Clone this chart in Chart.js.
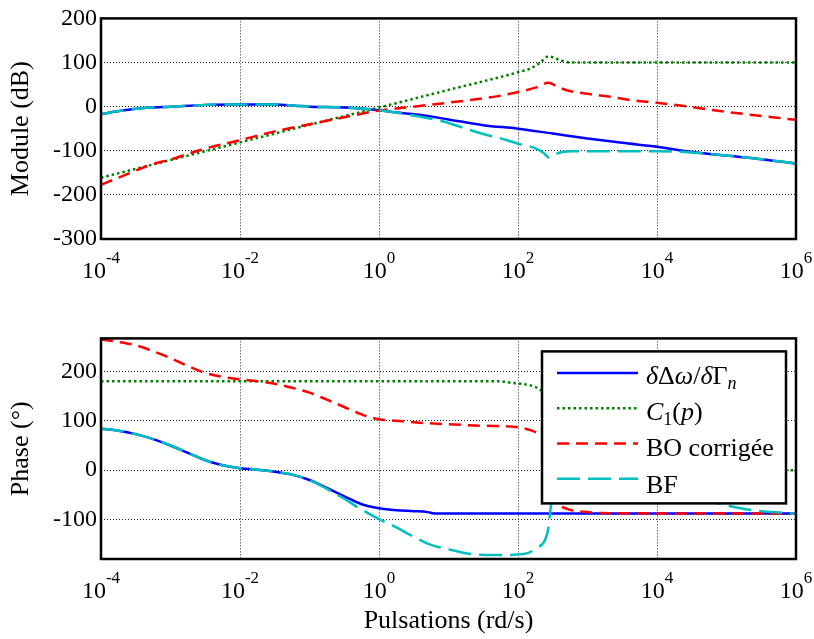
<!DOCTYPE html>
<html>
<head>
<meta charset="utf-8">
<script src="https://cdn.jsdelivr.net/npm/chart.js@4.4.0/dist/chart.umd.min.js"></script>
<style>
  html, body { margin: 0; padding: 0; background: #fff; }
  #wrap { position: relative; width: 814px; height: 639px; }
  #magChart { position: absolute; left: 0; top: 0; }
  #phaseChart { position: absolute; left: 0; top: 320px; }
</style>
</head>
<body>
<div id="wrap">
  <canvas id="magChart" width="814" height="320"></canvas>
  <canvas id="phaseChart" width="814" height="319"></canvas>
</div>
<script>
// x values are log10 of the pulsation (rd/s)
const xTickExps = [-4, -2, 0, 2, 4, 6];
const seriesNames = ['δΔω/δΓn', 'C1(p)', 'BO corrigée', 'BF'];

// Module (dB)
const magPlantW = [-4, -3.7, -3.3, -3, -2.5, -2, -1.5, -1.2, -1, -0.5, 0, 0.3, 0.6, 1, 1.5, 2, 2.5, 3, 3.5, 4, 4.5, 5, 5.5, 6];
const magPlant  = [-17, -9, -2, 0, 4, 5, 5, 2, 0, -2, -8, -14, -19, -29, -42, -50, -61, -72, -82, -91, -103, -111, -119, -129];

const magCorrW = [-4, -3, -2, -1, 0, 1, 2, 2.2, 2.32, 2.44, 2.56, 2.66, 2.75, 3, 4, 5, 6];
const magCorr  = [-161, -121, -81, -41, -2, 38, 78, 88, 100, 114, 108, 103, 100, 100, 100, 100, 100];

const magBOW = [-4, -3.7, -3.5, -3.25, -3, -2.75, -2.5, -2, -1.5, -1, -0.5, 0, 0.5, 1, 1.5, 1.75, 2, 2.25, 2.44, 2.56, 2.7, 3, 3.3, 3.665, 4, 4.5, 5, 5.5, 6];
const magBO  = [-177, -158, -145, -130, -120, -107, -95, -76, -56, -40, -24, -9, 0, 9, 19, 25, 33, 43, 54, 46, 37, 29, 23, 14, 9, -1, -12, -21, -30];

const magBFW = [-4, -3.7, -3.3, -3, -2.5, -2, -1.5, -1.2, -1, -0.5, 0, 0.3, 0.6, 0.8, 1, 1.27, 1.5, 1.75, 2, 2.225, 2.37, 2.45, 2.58, 2.75, 3, 3.5, 4, 4.3, 4.5, 5, 5.5, 6];
const magBF  = [-17, -9, -2, 0, 4, 5, 5, 2, 0, -2, -8, -15, -23, -29, -37, -51, -62, -72, -84, -93, -105, -116, -105, -101, -101, -101, -101, -102, -104, -111, -119, -129];

// Phase (deg)
const phPlantW = [-4, -3.75, -3.5, -3.25, -3, -2.75, -2.5, -2.25, -2, -1.75, -1.5, -1.25, -1, -0.75, -0.5, -0.25, 0, 0.25, 0.5, 0.7, 0.8, 6];
const phPlant  = [84, 80, 73, 63, 50, 35, 20, 10, 4, 1, -3, -9, -20, -36, -53, -69, -77, -81, -83, -85, -88, -88];

const phCorrW = [-4, 1.75, 1.9, 2.1, 2.22, 2.32, 2.4, 2.44, 2.47, 2.5, 2.56, 2.65, 2.8, 3, 3.5, 4, 6];
const phCorr  = [180, 180, 177, 174, 170, 163, 150, 125, 90, 60, 30, 14, 7, 4, 1, 0, 0];

const phBOW = [-4, -3.75, -3.5, -3.25, -3, -2.75, -2.5, -2.25, -2, -1.75, -1.5, -1.25, -1, -0.75, -0.5, -0.25, 0, 0.25, 0.5, 1, 1.5, 2, 2.2, 2.32, 2.4, 2.44, 2.47, 2.5, 2.56, 2.7, 2.8, 3, 3.2, 6];
const phBO  = [265, 260, 253, 241, 227, 211, 197, 189, 184, 180, 175, 167, 157, 143, 128, 113, 103, 100, 97, 93, 90, 87, 80, 72, 62, 37, 2, -28, -62, -78, -82, -85, -87, -88];

const phBFW = [-4, -3.75, -3.5, -3.25, -3, -2.75, -2.5, -2.25, -2, -1.75, -1.5, -1.25, -1, -0.75, -0.5, -0.25, 0, 0.25, 0.5, 0.78, 1, 1.27, 1.65, 2.08, 2.27, 2.39, 2.44, 2.465, 2.5, 2.56, 2.65, 2.8, 3, 3.5, 4, 4.3, 4.5, 4.8, 5, 5.2, 5.5, 5.8, 6];
const phBF  = [84, 80, 73, 63, 50, 35, 20, 10, 4, 1, -3, -9, -20, -38, -58, -80, -99, -116, -135, -153, -160, -169, -172, -170, -158, -141, -115, -82, -50, -28, -13, -6, -3, -8, -20, -33, -47, -64, -71, -77, -83, -86, -88];

const FONT = '"Liberation Serif", "Times New Roman", serif';
Chart.defaults.font.family = FONT;
Chart.defaults.color = '#000';

const colors = ['#0000ff', '#008000', '#ff0000', '#00bfbf'];
const dashes = [[], [2.5, 3], [12, 7], [23, 8]];

function pts(ws, vs) {
  return ws.map((w, i) => ({ x: Math.pow(10, w), y: vs[i] }));
}

function makeDatasets(list) {
  return list.map((d, i) => ({
    label: seriesNames[i],
    data: pts(d[0], d[1]),
    borderColor: colors[i],
    borderWidth: 2.5,
    borderDash: dashes[i],
    borderCapStyle: 'butt',
    pointRadius: 0,
    fill: false,
    cubicInterpolationMode: 'monotone',
    order: 4 - i
  }));
}

function xScale(h, title) {
  return {
    type: 'logarithmic',
    min: 1e-4,
    max: 1e6,
    ticks: { display: false },
    grid: { color: '#222', lineWidth: 1, drawTicks: false },
    border: { display: false, dash: [1, 2] },
    afterBuildTicks: s => { s.ticks = xTickExps.map(e => ({ value: Math.pow(10, e) })); },
    afterFit: s => { s.height = h; },
    title: title
      ? { display: true, text: title, font: { size: 26 }, color: '#000', padding: { top: 0, bottom: 2 } }
      : { display: false }
  };
}

function yScale(min, max, title) {
  return {
    min: min,
    max: max,
    ticks: { stepSize: 100, includeBounds: false, padding: 4, font: { size: 24 }, color: '#000' },
    grid: { color: '#222', lineWidth: 1, drawTicks: false },
    border: { display: false, dash: [1, 2] },
    afterFit: s => { s.width = 101; },
    title: { display: true, text: title, font: { size: 26 }, color: '#000', padding: { top: 6, bottom: 0 } }
  };
}

// frame box and 10^n tick labels
const framePlugin = {
  id: 'frame',
  afterDraw(chart) {
    const { ctx, chartArea: a } = chart;
    const xs = chart.scales.x;
    ctx.save();
    ctx.lineWidth = 2.5;
    ctx.strokeStyle = '#000';
    ctx.strokeRect(a.left, a.top, a.right - a.left, a.bottom - a.top);
    ctx.fillStyle = '#000';
    ctx.textBaseline = 'alphabetic';
    ctx.textAlign = 'left';
    xTickExps.forEach(e => {
      const px = xs.getPixelForValue(Math.pow(10, e));
      ctx.font = '24px ' + FONT;
      const w1 = ctx.measureText('10').width;
      ctx.font = '17px ' + FONT;
      const s = String(e);
      const w2 = ctx.measureText(s).width;
      const x0 = px - (w1 + w2) / 2;
      ctx.font = '24px ' + FONT;
      ctx.fillText('10', x0, a.bottom + 39);
      ctx.font = '17px ' + FONT;
      ctx.fillText(s, x0 + w1, a.bottom + 24);
    });
    ctx.restore();
  }
};

// legend box with math-styled labels
const legendPlugin = {
  id: 'mathLegend',
  afterDraw(chart) {
    const { ctx, chartArea: a } = chart;
    const bw = 244, bh = 152;
    const bx = a.right - 10 - bw, by = a.top + 13;
    ctx.save();
    ctx.fillStyle = '#fff';
    ctx.fillRect(bx, by, bw, bh);
    ctx.lineWidth = 2.5;
    ctx.strokeStyle = '#000';
    ctx.strokeRect(bx, by, bw, bh);

    const parts = [
      [['δ', 'i'], ['Δ', 'n'], ['ω', 'i'], ['/', 'n'], ['δ', 'i'], ['Γ', 'n'], ['n', 'is']],
      [['C', 'i'], ['1', 'ns'], ['(', 'n'], ['p', 'i'], [')', 'n']],
      [['BO corrigée', 'n']],
      [['BF', 'n']]
    ];
    parts.forEach((row, i) => {
      const ly = by + 21.5 + i * 35.3;
      ctx.setLineDash(dashes[i]);
      ctx.lineCap = 'butt';
      ctx.strokeStyle = colors[i];
      ctx.lineWidth = 2.5;
      ctx.beginPath();
      ctx.moveTo(bx + 15, ly);
      ctx.lineTo(bx + 96, ly);
      ctx.stroke();
      ctx.setLineDash([]);

      const base = by + 32.5 + i * 36.2;
      let tx = bx + 104;
      ctx.fillStyle = '#000';
      ctx.textBaseline = 'alphabetic';
      row.forEach(([t, st]) => {
        const ital = st[0] === 'i';
        const sub = st[1] === 's';
        ctx.font = (ital ? 'italic ' : '') + (sub ? '18px ' : '26px ') + FONT;
        ctx.fillText(t, tx, base + (sub ? 5 : 0));
        tx += ctx.measureText(t).width;
      });
    });
    ctx.restore();
  }
};

new Chart(document.getElementById('magChart'), {
  type: 'line',
  data: {
    datasets: makeDatasets([[magPlantW, magPlant], [magCorrW, magCorr], [magBOW, magBO], [magBFW, magBF]])
  },
  options: {
    responsive: false,
    animation: false,
    layout: { padding: { left: 0, right: 18, top: 17, bottom: 0 } },
    plugins: { legend: { display: false }, tooltip: { enabled: false } },
    scales: {
      x: xScale(81, null),
      y: yScale(-300, 200, 'Module (dB)')
    }
  },
  plugins: [framePlugin]
});

new Chart(document.getElementById('phaseChart'), {
  type: 'line',
  data: {
    datasets: makeDatasets([[phPlantW, phPlant], [phCorrW, phCorr], [phBOW, phBO], [phBFW, phBF]])
  },
  options: {
    responsive: false,
    animation: false,
    layout: { padding: { left: 0, right: 18, top: 16, bottom: 0 } },
    plugins: { legend: { display: false }, tooltip: { enabled: false } },
    scales: {
      x: xScale(80, 'Pulsations (rd/s)'),
      y: yScale(-180, 267, 'Phase (°)')
    }
  },
  plugins: [framePlugin, legendPlugin]
});
</script>
</body>
</html>
